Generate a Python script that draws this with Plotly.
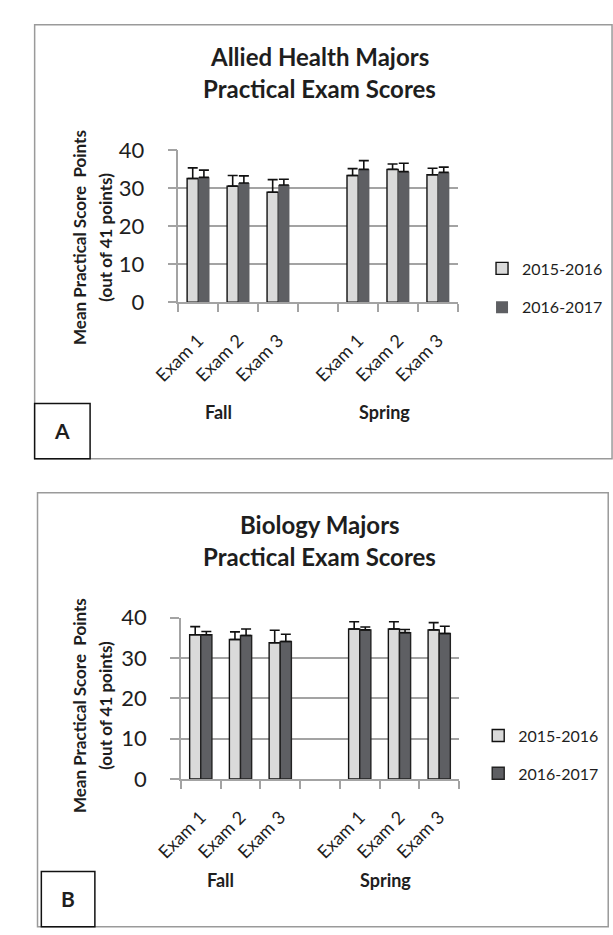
import plotly.graph_objects as go

W, H = 613, 935
FONT = "Lato"
TXT = "#1e1e1e"
GRID = "#a3a3a3"
LIGHT = "#dadada"
DARK = "#5e5f63"

# ---- data -------------------------------------------------------------
exam_labels = ["Exam 1", "Exam 2", "Exam 3", "Exam 1", "Exam 2", "Exam 3"]
exam_pos = [0, 1, 2, 4, 5, 6]          # slot 3 is the empty gap between terms
terms = ["Fall", "Spring"]
term_centers = [0.5, 4.65]
years = ["2015-2016", "2016-2017"]

allied_1516 = [32.5, 30.5, 28.9, 33.3, 34.9, 33.5]
allied_1516_err = [2.8, 2.8, 3.3, 1.8, 1.4, 1.7]
allied_1617 = [32.8, 31.3, 30.8, 34.9, 34.3, 34.1]
allied_1617_err = [1.9, 1.9, 1.5, 2.3, 2.2, 1.4]

bio_1516 = [35.8, 34.6, 33.8, 37.2, 37.2, 37.0]
bio_1516_err = [2.0, 1.9, 3.1, 1.8, 1.8, 1.8]
bio_1617 = [35.8, 35.6, 34.1, 37.0, 36.3, 36.1]
bio_1617_err = [0.8, 1.6, 1.8, 0.7, 0.8, 1.8]

panel_titles = [["Allied Health Majors", "Practical Exam Scores"],
                ["Biology Majors", "Practical Exam Scores"]]
y_title_1 = "Mean Practical Score  Points"
y_title_2 = "(out of 41 points)"
panel_tags = ["A", "B"]


def fx(p):
    return p / W


def fy(p):
    return 1 - p / H


def label(x, y, text, size, xref="paper", angle=0):
    return dict(xref=xref, yref="paper", x=x, y=y, text=text,
                showarrow=False, xanchor="center", yanchor="middle",
                textangle=angle, align="center",
                font=dict(family=FONT, size=size, color=TXT))


# pixel geometry of the two panels
panels = [
    dict(x0=158.3, x1=451.0, y0=140.0, y1=296.7, top=11, bottom=458,
         left=8, right=612, tag=(8, 401, 66, 458), legend=(476, 262, 302),
         term_y=410, dark_line=0),
    dict(x0=161.0, x1=452.0, y0=621.7, y1=787.7, top=493, bottom=940,
         left=11, right=608, tag=(15, 883, 71, 940), legend=(472, 743, 782),
         term_y=892, dark_line=1.4),
]
series = [
    (allied_1516, allied_1516_err, allied_1617, allied_1617_err),
    (bio_1516, bio_1516_err, bio_1617, bio_1617_err),
]

fig = go.Figure()
shapes, annotations = [], []
layout = dict(
    width=W, height=H, margin=dict(l=0, r=0, t=0, b=0),
    paper_bgcolor="white", plot_bgcolor="white", showlegend=True,
    barmode="group", bargap=0.44, bargroupgap=0.0,
    font=dict(family=FONT, color=TXT),
)

for i, (p, s) in enumerate(zip(panels, series)):
    sfx = "" if i == 0 else str(i + 1)
    xa, ya = "x" + sfx, "y" + sfx
    v1, e1, v2, e2 = s
    leg_a = "legend" if i == 0 else "legend3"
    leg_b = "legend2" if i == 0 else "legend4"

    fig.add_trace(go.Bar(
        x=exam_pos, y=v1, name=years[0], xaxis=xa, yaxis=ya, legend=leg_a,
        showlegend=True,
        marker=dict(color=LIGHT, line=dict(color="#111111", width=1.4)),
        error_y=dict(type="data", array=e1, arrayminus=[0] * len(e1),
                     symmetric=False, color="#111111", thickness=1.6, width=5),
    ))
    fig.add_trace(go.Bar(
        x=exam_pos, y=v2, name=years[1], xaxis=xa, yaxis=ya, legend=leg_b,
        showlegend=True,
        marker=dict(color=DARK, line=dict(color="#222222", width=p["dark_line"])),
        error_y=dict(type="data", array=e2, arrayminus=[0] * len(e2),
                     symmetric=False, color="#111111", thickness=1.6, width=5),
    ))

    layout["xaxis" + sfx] = dict(
        domain=[fx(p["x0"]), fx(p["x1"])], anchor=ya, range=[-0.5, 6.5],
        tickmode="array", tickvals=exam_pos, ticktext=exam_labels,
        tickangle=-45, ticks="", ticklen=0, ticklabelstandoff=19,
        tickfont=dict(family=FONT, size=18, color=TXT),
        showline=True, linecolor=GRID, linewidth=1.5,
        showgrid=False, zeroline=False, fixedrange=True,
        minor=dict(tickmode="linear", tick0=-0.5, dtick=1, ticks="outside",
                   ticklen=8, tickwidth=1.5, tickcolor=GRID, showgrid=False),
    )
    layout["yaxis" + sfx] = dict(
        domain=[fy(p["y1"]), fy(p["y0"])], anchor=xa, range=[0, 40],
        tickmode="array", tickvals=[0, 10, 20, 30, 40],
        tickfont=dict(family=FONT, size=22, color=TXT),
        ticks="outside", ticklen=9, tickwidth=1.5, tickcolor=GRID,
        ticklabelstandoff=19,
        showline=True, linecolor=GRID, linewidth=1.5,
        showgrid=True, gridcolor=GRID, gridwidth=1.5, zeroline=False,
    )

    lx, ly1, ly2 = p["legend"]
    for leg, ly in ((leg_a, ly1), (leg_b, ly2)):
        layout[leg] = dict(x=fx(lx), y=fy(ly), xanchor="left",
                           yanchor="middle", bgcolor="rgba(0,0,0,0)",
                           font=dict(family=FONT, size=16, color=TXT))

    # chart frame
    shapes.append(dict(type="rect", xref="paper", yref="paper",
                       x0=fx(p["left"]), x1=fx(p["right"]),
                       y0=fy(p["bottom"]), y1=fy(p["top"]),
                       line=dict(color="#9a9a9a", width=1.5)))
    # panel tag box
    tx0, ty0, tx1, ty1 = p["tag"]
    shapes.append(dict(type="rect", xref="paper", yref="paper",
                       x0=fx(tx0), x1=fx(tx1), y0=fy(ty1), y1=fy(ty0),
                       fillcolor="white", line=dict(color="#111111", width=1.5)))
    annotations.append(label(fx((tx0 + tx1) / 2), fy(ty0 + 28),
                             "<b>%s</b>" % panel_tags[i], 21))

    # two-line chart title
    for k, line in enumerate(panel_titles[i]):
        annotations.append(label(fx(306), fy(p["top"] + 33 + 33 * k),
                                 "<b>%s</b>" % line, 24))

    # value axis title (two lines)
    yc = p["top"] + 219
    annotations.append(label(fx(55), fy(yc), "<b>%s</b>" % y_title_1, 17,
                             angle=-90))
    annotations.append(label(fx(82), fy(yc), "<b>%s</b>" % y_title_2, 17,
                             angle=-90))

    # term group labels under the exam labels
    for term, cpos in zip(terms, term_centers):
        annotations.append(label(cpos, fy(p["term_y"]),
                                 "<b>%s</b>" % term, 18, xref=xa))

layout["shapes"] = shapes
layout["annotations"] = annotations
fig.update_layout(**layout)

fig.write_html("out.html")
